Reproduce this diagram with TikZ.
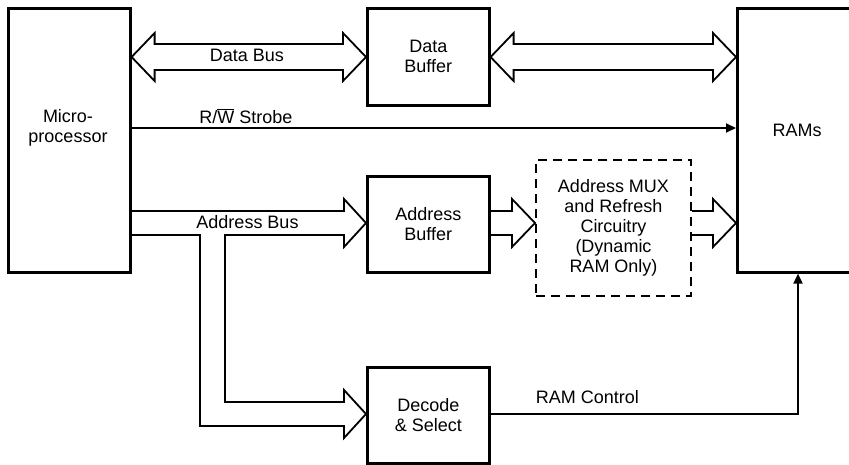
\documentclass[tikz,border=0pt]{standalone}
\usepackage{fontspec}
\setmainfont{Liberation Sans}
\usetikzlibrary{arrows.meta,calc}
\begin{document}
\begin{tikzpicture}[x=1pt,y=-1pt,
  blk/.style={draw,line width=2.6pt,rectangle,inner sep=0pt,align=center,anchor=north west},
  dblk/.style={blk,dashed,line width=2pt,dash pattern=on 9pt off 6pt},
  txt/.style={inner sep=0pt,align=center,font=\fontsize{18}{20}\selectfont},
  fat/.style={line width=1.8pt,line join=miter},
  sig/.style={line width=1.8pt,-{Triangle[length=10pt,width=9pt]}},
  every node/.append style={font=\fontsize{18}{20}\selectfont}]
\useasboundingbox (0,0) rectangle (849,464);
% boxes
\node[blk,minimum width=122pt,minimum height=264pt] (mp) at (7,7) {};
\node[txt] (mptxt) at (68,128) {Micro-\\processor};
\node[blk,minimum width=122pt,minimum height=97pt] (db) at (366,7) {Data\\Buffer};
\node[blk,minimum width=140pt,minimum height=264pt] (ram) at (736,7) {};
\node[txt] (ramtxt) at (797,130) {RAMs};
\node[blk,minimum width=122pt,minimum height=96pt] (ab) at (366,175) {Address\\Buffer};
\node[dblk,minimum width=155pt,minimum height=136pt] (mux) at (535,159) {Address MUX\\and Refresh\\Circuitry\\(Dynamic\\RAM Only)};
\node[blk,minimum width=122pt,minimum height=96pt] (dec) at (366,366) {Decode\\\& Select};
% data bus (double hollow arrows)
\coordinate (d1) at (mp.east |- 0,57);
\coordinate (d2) at (db.west |- 0,57);
\draw[fat] (d1) -- ($(d1)+(23,-24)$) -- ($(d1)+(23,-13)$) -- ($(d2)+(-23,-13)$) -- ($(d2)+(-23,-24)$) -- (d2)
  -- ($(d2)+(-23,24)$) -- ($(d2)+(-23,13)$) -- ($(d1)+(23,13)$) -- ($(d1)+(23,24)$) -- cycle;
\coordinate (d3) at (db.east |- 0,57);
\coordinate (d4) at (ram.west |- 0,57);
\draw[fat] (d3) -- ($(d3)+(23,-24)$) -- ($(d3)+(23,-13)$) -- ($(d4)+(-23,-13)$) -- ($(d4)+(-23,-24)$) -- (d4)
  -- ($(d4)+(-23,24)$) -- ($(d4)+(-23,13)$) -- ($(d3)+(23,13)$) -- ($(d3)+(23,24)$) -- cycle;
\node[txt] (dbl) at (247,55) {Data Bus};
% R/W strobe
\draw[sig] (mp.east |- 0,128) -- (ram.west |- 0,128);
\node[txt] (rwl) at (246,116) {R/$\overline{\mbox{W}}$ Strobe};
% address bus
\coordinate (a1) at (ab.west |- 0,223);
\coordinate (a2) at (dec.west |- 0,414);
\draw[fat] (mp.east |- 0,211) -- ($(a1)+(-22,-12)$) -- ($(a1)+(-22,-24)$) -- (a1) -- ($(a1)+(-22,24)$) -- ($(a1)+(-22,12)$)
  -- (225,235) -- (225,402) -- ($(a2)+(-22,-12)$) -- ($(a2)+(-22,-24)$) -- (a2) -- ($(a2)+(-22,24)$) -- ($(a2)+(-22,12)$)
  -- (200,426) -- (200,235) -- (mp.east |- 0,235);
\node[txt] (abl) at (247.5,222) {Address Bus};
% address buffer -> mux
\coordinate (m0) at (ab.east |- 0,223);
\coordinate (m1) at (mux.west |- 0,223);
\draw[fat] (m0) ++(0,-12) -- ($(m1)+(-23,-12)$) -- ($(m1)+(-23,-24)$) -- (m1) -- ($(m1)+(-23,24)$) -- ($(m1)+(-23,12)$) -- ($(m0)+(0,12)$);
% mux -> rams
\coordinate (r0) at (mux.east |- 0,223);
\coordinate (r1) at (ram.west |- 0,223);
\draw[fat] (r0) ++(0,-12) -- ($(r1)+(-23,-12)$) -- ($(r1)+(-23,-24)$) -- (r1) -- ($(r1)+(-23,24)$) -- ($(r1)+(-23,12)$) -- ($(r0)+(0,12)$);
% RAM control
\draw[sig] (dec.east |- 0,414) -| (ram.south -| 798,0);
\node[txt] (rcl) at (587.5,397) {RAM Control};
\end{tikzpicture}
\end{document}
